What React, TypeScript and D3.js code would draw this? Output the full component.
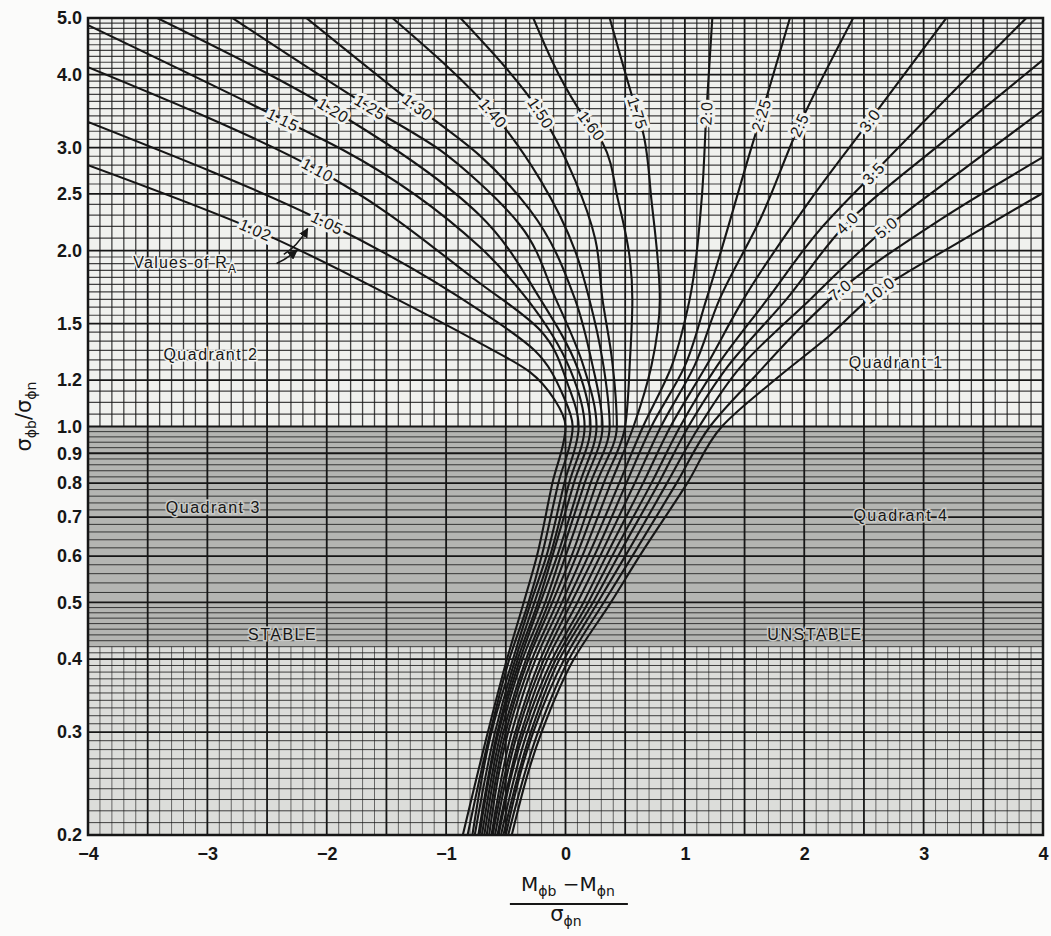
import React, { useEffect, useRef } from "react";
import * as d3 from "d3";

// R_A values, one per curve
const ratioLabels = [
  "1.02", "1.05", "1.10", "1.15", "1.20", "1.25", "1.30", "1.40", "1.50", "1.60",
  "1.75", "2.0", "2.25", "2.5", "3.0", "3.5", "4.0", "5.0", "7.0", "10.0",
];

// upper branch of each curve (quadrants 1 & 2): [ (Mb-Mn)/sn , sb/sn ] from the frame edge down to 1.0
const upperBranches = [
  [[-4.0, 2.8], [-2.6, 2.17], [-1.41, 1.65], [-0.72, 1.39], [-0.3, 1.24], [-0.09, 1.11], [0.0, 1.0]],
  [[-4.0, 3.32], [-2.0, 2.23], [-0.72, 1.58], [-0.26, 1.35], [-0.02, 1.13], [0.06, 1.0]],
  [[-4.0, 4.12], [-2.08, 2.75], [-0.72, 1.76], [-0.21, 1.46], [0.02, 1.18], [0.11, 1.0]],
  [[-4.0, 4.86], [-2.37, 3.35], [-1.86, 2.97], [-0.72, 2.03], [-0.32, 1.65], [0.04, 1.25], [0.16, 1.0]],
  [[-3.42, 5.0], [-1.95, 3.48], [-0.72, 2.3], [-0.21, 1.65], [0.1, 1.26], [0.21, 1.0]],
  [[-2.79, 5.0], [-1.64, 3.52], [-1.05, 2.97], [-0.72, 2.61], [-0.38, 2.21], [-0.08, 1.65], [0.15, 1.27], [0.26, 1.0]],
  [[-2.17, 5.0], [-1.24, 3.52], [-0.72, 2.91], [-0.3, 2.35], [0.08, 1.65], [0.22, 1.29], [0.31, 1.0]],
  [[-1.45, 5.0], [-0.61, 3.44], [-0.21, 2.64], [0.08, 2.0], [0.2, 1.65], [0.31, 1.3], [0.37, 1.0]],
  [[-0.88, 5.0], [-0.21, 3.44], [0.08, 2.64], [0.25, 2.09], [0.31, 1.65], [0.39, 1.3], [0.43, 1.0]],
  [[-0.27, 5.0], [0.1, 3.52], [0.31, 3.06], [0.44, 2.44], [0.54, 1.93], [0.56, 1.65], [0.54, 1.3], [0.5, 1.0]],
  [[0.37, 5.0], [0.56, 3.66], [0.65, 3.18], [0.72, 2.44], [0.79, 1.65], [0.72, 1.27], [0.57, 1.0]],
  [[1.23, 5.0], [1.18, 3.44], [1.14, 2.44], [1.04, 1.65], [0.89, 1.27], [0.65, 1.0]],
  [[1.88, 5.0], [1.64, 3.41], [1.57, 3.06], [1.18, 1.65], [1.0, 1.27], [0.72, 1.0]],
  [[2.41, 5.0], [1.96, 3.28], [1.63, 2.26], [1.29, 1.65], [1.08, 1.27], [0.8, 1.0]],
  [[3.19, 5.0], [2.55, 3.34], [2.05, 2.44], [1.49, 1.65], [1.18, 1.27], [0.88, 1.0]],
  [[3.86, 5.0], [2.58, 2.71], [2.13, 2.17], [1.69, 1.65], [1.27, 1.27], [0.96, 1.0]],
  [[4.0, 4.24], [3.18, 3.09], [2.36, 2.23], [1.85, 1.65], [1.35, 1.26], [1.03, 1.0]],
  [[4.0, 3.48], [3.35, 2.77], [2.69, 2.19], [2.05, 1.65], [1.46, 1.26], [1.12, 1.0]],
  [[4.0, 2.89], [3.14, 2.26], [2.3, 1.71], [1.96, 1.47], [1.59, 1.22], [1.21, 1.0]],
  [[4.0, 2.51], [3.3, 2.07], [2.63, 1.71], [2.21, 1.43], [1.75, 1.2], [1.31, 1.0]],
];

// lower branch (quadrants 3 & 4): x read at these sigma ratios
const lowerLevels = [0.8, 0.6, 0.5, 0.4, 0.3, 0.2];
const lowerBranches = [
  [-0.11, -0.24, -0.35, -0.49, -0.65, -0.86],
  [-0.06, -0.2, -0.31, -0.47, -0.63, -0.82],
  [-0.01, -0.16, -0.29, -0.44, -0.62, -0.78],
  [0.03, -0.13, -0.26, -0.42, -0.59, -0.76],
  [0.07, -0.11, -0.23, -0.4, -0.57, -0.73],
  [0.12, -0.07, -0.21, -0.38, -0.56, -0.72],
  [0.16, -0.04, -0.17, -0.36, -0.54, -0.7],
  [0.21, 0.0, -0.14, -0.33, -0.52, -0.68],
  [0.26, 0.05, -0.11, -0.31, -0.5, -0.66],
  [0.32, 0.09, -0.07, -0.28, -0.48, -0.64],
  [0.38, 0.14, -0.03, -0.25, -0.45, -0.62],
  [0.45, 0.19, 0.01, -0.21, -0.42, -0.61],
  [0.51, 0.24, 0.05, -0.18, -0.4, -0.59],
  [0.58, 0.29, 0.1, -0.15, -0.37, -0.57],
  [0.65, 0.34, 0.15, -0.11, -0.35, -0.56],
  [0.72, 0.39, 0.19, -0.08, -0.32, -0.54],
  [0.78, 0.44, 0.23, -0.05, -0.29, -0.52],
  [0.85, 0.5, 0.27, -0.01, -0.27, -0.5],
  [0.93, 0.56, 0.32, 0.03, -0.23, -0.48],
  [1.02, 0.62, 0.38, 0.07, -0.2, -0.45],
];

// sigma ratio at which each curve carries its label
const labelLevels = [
  2.17, 2.23, 2.75, 3.35, 3.48, 3.52, 3.52, 3.44, 3.44, 3.27,
  3.44, 3.44, 3.41, 3.28, 3.34, 2.71, 2.23, 2.19, 1.71, 1.71,
];

const yTickValues = [5, 4, 3, 2.5, 2, 1.5, 1.2, 1.0, 0.9, 0.8, 0.7, 0.6, 0.5, 0.4, 0.3, 0.2];
const xTickValues = [-4, -3, -2, -1, 0, 1, 2, 3, 4];

const width = 1051;
const height = 936;
const margin = { top: 18, right: 8, bottom: 101, left: 88 };
const paper = "#f0f1ee";
const ink = "#161616";
const letterFont = "'Liberation Sans', Arial, sans-serif";

export default function App() {
  const ref = useRef<SVGSVGElement | null>(null);

  useEffect(() => {
    const svg = d3.select(ref.current);
    svg.selectAll("*").remove();

    const x = d3.scaleLinear().domain([-4, 4]).range([margin.left, width - margin.right]);
    const y = d3.scaleLog().domain([0.2, 5]).range([height - margin.bottom, margin.top]);
    const xL = x(-4), xR = x(4), yT = y(5), yB = y(0.2);

    const defs = svg.append("defs");
    defs.append("clipPath").attr("id", "plot-clip").append("rect")
      .attr("x", xL).attr("y", yT).attr("width", xR - xL).attr("height", yB - yT);
    defs.append("marker")
      .attr("id", "arrow").attr("viewBox", "0 0 10 10")
      .attr("refX", 9).attr("refY", 5)
      .attr("markerWidth", 6).attr("markerHeight", 6)
      .attr("orient", "auto")
      .append("path").attr("d", "M0,0 L10,5 L0,10 z").attr("fill", ink);

    // paper shading: light above 1.0, heavy tint in the band below it
    svg.append("rect").attr("x", xL).attr("y", yT).attr("width", xR - xL).attr("height", yB - yT).attr("fill", paper);
    svg.append("rect").attr("x", xL).attr("y", y(1)).attr("width", xR - xL).attr("height", y(0.42) - y(1)).attr("fill", "#b4b5b2");
    svg.append("rect").attr("x", xL).attr("y", y(0.42)).attr("width", xR - xL).attr("height", yB - y(0.42)).attr("fill", "#dcddda");

    const grid = svg.append("g").attr("clip-path", "url(#plot-clip)");

    // vertical rulings every 0.1, heavier every 0.5
    const vLines = d3.range(-40, 41);
    vLines.forEach((k) => {
      const px = x(k / 10);
      if (k % 5 === 0) {
        grid.append("line").attr("x1", px).attr("x2", px).attr("y1", yT).attr("y2", yB)
          .attr("stroke", ink).attr("stroke-width", 1.8);
      } else {
        grid.append("line").attr("x1", px).attr("x2", px).attr("y1", yT).attr("y2", y(1))
          .attr("stroke", ink).attr("stroke-width", 1.3).attr("stroke-opacity", 0.8);
        grid.append("line").attr("x1", px).attr("x2", px).attr("y1", y(0.42)).attr("y2", yB)
          .attr("stroke", ink).attr("stroke-width", 1).attr("stroke-opacity", 0.6);
      }
    });

    // horizontal log rulings (hundredths)
    const hLines: number[] = [];
    for (let k = 20; k < 50; k += 1) hLines.push(k);
    for (let k = 50; k < 100; k += 2) hLines.push(k);
    for (let k = 100; k < 200; k += 5) hLines.push(k);
    for (let k = 200; k <= 500; k += 10) hLines.push(k);
    const heavy = new Set([20, 30, 40, 50, 60, 70, 80, 90, 100, 120, 150, 200, 250, 300, 400, 500]);
    hLines.forEach((k) => {
      const py = y(k / 100);
      grid.append("line").attr("x1", xL).attr("x2", xR).attr("y1", py).attr("y2", py)
        .attr("stroke", ink)
        .attr("stroke-width", heavy.has(k) ? 1.8 : k < 100 ? 1 : 1.2)
        .attr("stroke-opacity", heavy.has(k) ? 1 : 0.8);
    });

    // frame
    svg.append("rect").attr("x", xL).attr("y", yT).attr("width", xR - xL).attr("height", yB - yT)
      .attr("fill", "none").attr("stroke", ink).attr("stroke-width", 2.5);

    // curves of constant R_A (each one runs downward on the page)
    const line = d3.line<number[]>()
      .x((d) => x(d[0]))
      .y((d) => y(d[1]))
      .curve(d3.curveMonotoneY);

    const curveG = svg.append("g").attr("clip-path", "url(#plot-clip)");
    const paths = ratioLabels.map((lab, i) => {
      const pts = upperBranches[i].concat(lowerLevels.map((lv, j) => [lowerBranches[i][j], lv]));
      return curveG.append("path")
        .attr("d", line(pts))
        .attr("fill", "none")
        .attr("stroke", ink)
        .attr("stroke-width", 2.1)
        .node() as SVGPathElement;
    });

    // labels written along the curves
    const labelG = svg.append("g");
    paths.forEach((node, i) => {
      const total = node.getTotalLength();
      const target = y(labelLevels[i]);
      let s = 0;
      for (; s < total; s += 0.5) {
        if (node.getPointAtLength(s).y >= target) break;
      }
      const p = node.getPointAtLength(s);
      const a = node.getPointAtLength(Math.max(0, s - 4));
      const b = node.getPointAtLength(Math.min(total, s + 4));
      let ang = (Math.atan2(b.y - a.y, b.x - a.x) * 180) / Math.PI;
      if (ang > 90) ang -= 180;
      if (ang < -90) ang += 180;
      labelG.append("text")
        .attr("transform", `translate(${p.x},${p.y}) rotate(${ang})`)
        .attr("text-anchor", "middle")
        .attr("dy", "0.35em")
        .style("font-family", letterFont)
        .style("font-size", "16px")
        .style("letter-spacing", "0.5px")
        .style("paint-order", "stroke")
        .attr("stroke", paper)
        .attr("stroke-width", 6)
        .attr("fill", ink)
        .text(ratioLabels[i]);
    });

    // axes: labels only
    const yAxis = d3.axisLeft(y).tickValues(yTickValues).tickFormat(d3.format(".1f")).tickSize(0).tickPadding(6);
    const yg = svg.append("g").attr("transform", `translate(${xL},0)`).call(yAxis);
    yg.select(".domain").remove();
    yg.selectAll("text").style("font-family", letterFont).style("font-size", "18px").style("font-weight", "700").attr("fill", ink);

    const xAxis = d3.axisBottom(x).tickValues(xTickValues).tickFormat(d3.format("d")).tickSize(0).tickPadding(12);
    const xg = svg.append("g").attr("transform", `translate(0,${yB})`).call(xAxis);
    xg.select(".domain").remove();
    xg.selectAll("text").style("font-family", letterFont).style("font-size", "18px").style("font-weight", "700").attr("fill", ink);

    // axis titles
    const greek = "'DejaVu Sans', sans-serif";
    const yt = svg.append("text")
      .attr("transform", `translate(31,${y(1.04)}) rotate(-90)`)
      .attr("text-anchor", "middle")
      .style("font-family", greek).style("font-size", "21px").attr("fill", ink);
    yt.append("tspan").text("σ");
    yt.append("tspan").attr("dy", 5).style("font-size", "14px").text("ϕb");
    yt.append("tspan").attr("dy", -5).text("/σ");
    yt.append("tspan").attr("dy", 5).style("font-size", "14px").text("ϕn");

    const cx = x(0.02);
    const num = svg.append("text").attr("x", cx).attr("y", 891).attr("text-anchor", "middle")
      .style("font-family", greek).style("font-size", "20px").attr("fill", ink);
    num.append("tspan").text("M");
    num.append("tspan").attr("dy", 5).style("font-size", "14px").text("ϕb");
    num.append("tspan").attr("dy", -5).text(" −M");
    num.append("tspan").attr("dy", 5).style("font-size", "14px").text("ϕn");
    svg.append("line").attr("x1", cx - 58).attr("x2", cx + 60).attr("y1", 904).attr("y2", 904)
      .attr("stroke", ink).attr("stroke-width", 2);
    const den = svg.append("text").attr("x", cx - 2).attr("y", 921).attr("text-anchor", "middle")
      .style("font-family", greek).style("font-size", "21px").attr("fill", ink);
    den.append("tspan").text("σ");
    den.append("tspan").attr("dy", 5).style("font-size", "14px").text("ϕn");

    // region annotations
    const notes = [
      { t: "Quadrant 2", x: -2.97, v: 1.3 },
      { t: "Quadrant 3", x: -2.95, v: 0.711 },
      { t: "Quadrant 1", x: 2.77, v: 1.26 },
      { t: "Quadrant 4", x: 2.81, v: 0.69 },
      { t: "STABLE", x: -2.37, v: 0.431 },
      { t: "UNSTABLE", x: 2.09, v: 0.431 },
    ];
    notes.forEach((n) => {
      svg.append("text").attr("x", x(n.x)).attr("y", y(n.v)).attr("text-anchor", "middle")
        .style("font-family", letterFont).style("font-size", "16px").style("letter-spacing", "1.5px")
        .style("paint-order", "stroke").attr("stroke", n.v > 1 ? paper : "#c9cac7").attr("stroke-width", 3)
        .attr("fill", ink).text(n.t);
    });

    const rv = svg.append("text").attr("x", x(-3.62)).attr("y", y(1.87))
      .style("font-family", letterFont).style("font-size", "16px").style("letter-spacing", "1.2px")
      .style("paint-order", "stroke").attr("stroke", paper).attr("stroke-width", 3)
      .attr("fill", ink);
    rv.append("tspan").text("Values of R");
    rv.append("tspan").attr("dy", 5).style("font-size", "12px").text("A");

    svg.append("path")
      .attr("d", `M${x(-2.42)},${y(1.9)} Q${x(-2.33)},${y(1.94)} ${x(-2.25)},${y(2.0)}`)
      .attr("fill", "none").attr("stroke", ink).attr("stroke-width", 1.6).attr("marker-end", "url(#arrow)");
    svg.append("path")
      .attr("d", `M${x(-2.36)},${y(1.97)} Q${x(-2.25)},${y(2.03)} ${x(-2.16)},${y(2.18)}`)
      .attr("fill", "none").attr("stroke", ink).attr("stroke-width", 1.6).attr("marker-end", "url(#arrow)");
  }, []);

  return (
    <svg
      ref={ref}
      width={width}
      height={height}
      style={{ position: "absolute", left: 0, top: 0, background: "#fbfbfa" }}
    />
  );
}
